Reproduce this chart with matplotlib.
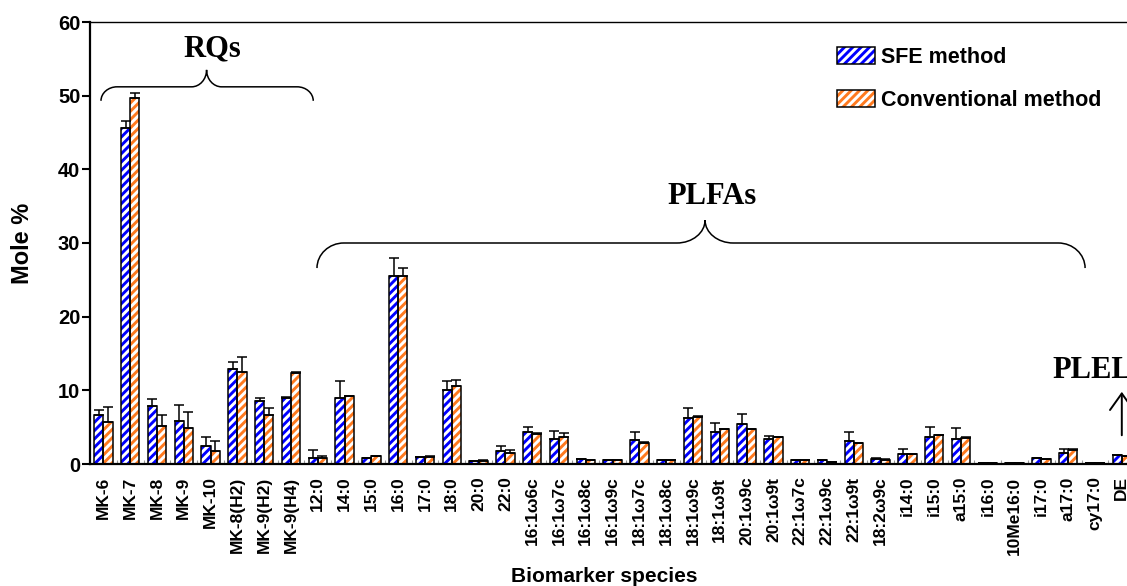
import matplotlib
matplotlib.use("Agg")
import matplotlib.pyplot as plt
import numpy as np
from matplotlib.path import Path
from matplotlib.patches import PathPatch, Patch
from matplotlib.legend_handler import HandlerTuple

plt.rcParams["font.family"] = ["Liberation Sans", "DejaVu Sans"]
plt.rcParams["font.weight"] = "bold"
plt.rcParams["hatch.linewidth"] = 2.1

# biomarker species and mole % values (mean, upper error)
species = ["MK-6", "MK-7", "MK-8", "MK-9", "MK-10", "MK-8(H2)", "MK-9(H2)", "MK-9(H4)",
           "12:0", "14:0", "15:0", "16:0", "17:0", "18:0", "20:0", "22:0",
           "16:1ω6c", "16:1ω7c", "16:1ω8c", "16:1ω9c", "18:1ω7c", "18:1ω8c", "18:1ω9c",
           "18:1ω9t", "20:1ω9c", "20:1ω9t", "22:1ω7c", "22:1ω9c", "22:1ω9t", "18:2ω9c",
           "i14:0", "i15:0", "a15:0", "i16:0", "10Me16:0", "i17:0", "a17:0", "cy17:0", "DE"]
sfe = [6.7, 45.6, 7.9, 5.8, 2.4, 12.9, 8.5, 8.9,
       0.8, 9.0, 0.75, 25.5, 1.0, 10.1, 0.4, 1.7,
       4.4, 3.4, 0.65, 0.5, 3.2, 0.5, 6.3,
       4.3, 5.4, 3.4, 0.5, 0.5, 3.1, 0.7,
       1.4, 3.6, 3.4, 0.15, 0.15, 0.8, 1.5, 0.15, 1.2]
sfe_err = [0.6, 1.0, 0.9, 2.2, 1.2, 1.0, 0.4, 0.2,
           1.1, 2.2, 0.0, 2.4, 0.0, 1.1, 0.0, 0.8,
           0.6, 1.1, 0.0, 0.0, 1.1, 0.0, 1.3,
           1.3, 1.4, 0.4, 0.0, 0.0, 1.2, 0.1,
           0.6, 1.4, 1.5, 0.0, 0.0, 0.0, 0.6, 0.0, 0.0]
conv = [5.7, 49.7, 5.2, 4.9, 1.8, 12.5, 6.7, 12.4,
        0.8, 9.2, 1.05, 25.5, 1.0, 10.6, 0.45, 1.5,
        4.1, 3.7, 0.5, 0.5, 2.9, 0.5, 6.4,
        4.7, 4.7, 3.6, 0.5, 0.3, 2.8, 0.6,
        1.35, 3.9, 3.55, 0.15, 0.15, 0.7, 1.95, 0.15, 1.05]
conv_err = [2.0, 0.7, 1.4, 2.2, 1.3, 2.0, 0.9, 0.05,
            0.35, 0.05, 0.0, 1.1, 0.05, 0.8, 0.05, 0.4,
            0.1, 0.5, 0.0, 0.0, 0.1, 0.0, 0.1,
            0.1, 0.1, 0.1, 0.0, 0.0, 0.1, 0.05,
            0.05, 0.1, 0.1, 0.0, 0.0, 0.0, 0.1, 0.0, 0.0]

BLUE = "#0000ff"
ORANGE = "#ff7a1f"

W, H = 1127, 586
fig = plt.figure(figsize=(W / 100, H / 100), dpi=100)
# axes runs past the right edge of the figure, like the cropped original
ax = fig.add_axes([90 / W, 1 - 464 / H, 1072 / W, 442 / H])

x = np.arange(len(species))
bw = 0.34

def hatched_bars(xpos, vals, errs, color):
    ax.bar(xpos, vals, bw, color="white", edgecolor=color, hatch="////", linewidth=0, zorder=2)
    ax.bar(xpos, vals, bw, fill=False, edgecolor="black", linewidth=1.1, zorder=3)
    ax.errorbar(xpos, vals, yerr=[np.zeros(len(vals)), errs], fmt="none", ecolor="black",
                elinewidth=1.1, capsize=3.3, capthick=1.1, zorder=4)

hatched_bars(x - bw / 2, sfe, sfe_err, BLUE)
hatched_bars(x + bw / 2, conv, conv_err, ORANGE)

ax.set_xlim(-0.5, 39.5)
ax.set_ylim(0, 60)
ax.set_yticks(np.arange(0, 61, 10))
ax.set_xticks(x)
ax.set_xticklabels(species, rotation=90, fontsize=12.5, fontweight="bold")
ax.set_xticks(x + 0.5, minor=True)
ax.tick_params(axis="x", which="major", length=0, pad=9)
ax.tick_params(axis="x", which="minor", length=3, direction="in", color="0.6", width=0.8)
ax.tick_params(axis="y", length=6, width=1.5, labelsize=14.5, pad=1)
for lab in ax.get_yticklabels():
    lab.set_fontweight("bold")
for side in ["left", "bottom"]:
    ax.spines[side].set_linewidth(1.6)
ax.spines["top"].set_linewidth(1.0)

ax.set_ylabel("Mole %", fontsize=17, fontweight="bold")
ax.yaxis.set_label_coords(-0.052, 0.5)
ax.set_xlabel("Biomarker species", fontsize=15, fontweight="bold")
ax.xaxis.set_label_coords(0.4795, -0.232)


def brace(xa, xb, xc, y_end, y_line, y_tip, rx_end, rx_tip):
    k = 0.55
    verts = [
        (xa, y_end),
        (xa, y_end + (y_line - y_end) * k), (xa + rx_end * (1 - k), y_line), (xa + rx_end, y_line),
        (xc - rx_tip, y_line),
        (xc - rx_tip * (1 - k), y_line), (xc, y_line + (y_tip - y_line) * (1 - k)), (xc, y_tip),
        (xc, y_line + (y_tip - y_line) * (1 - k)), (xc + rx_tip * (1 - k), y_line), (xc + rx_tip, y_line),
        (xb - rx_end, y_line),
        (xb - rx_end * (1 - k), y_line), (xb, y_end + (y_line - y_end) * k), (xb, y_end),
    ]
    codes = ([Path.MOVETO] + [Path.CURVE4] * 3 + [Path.LINETO] + [Path.CURVE4] * 6
             + [Path.LINETO] + [Path.CURVE4] * 3)
    ax.add_patch(PathPatch(Path(verts, codes), fill=False, lw=1.1, color="black", zorder=5,
                           clip_on=False))


brace(-0.09, 7.83, 3.85, 49.3, 51.2, 53.5, 0.6, 0.56)
ax.text(4.05, 56.4, "RQs", family="Liberation Serif", fontsize=22, fontweight="bold",
        ha="center", va="center")
brace(7.97, 36.63, 22.45, 26.6, 30.0, 33.1, 1.0, 1.05)
ax.text(22.71, 36.3, "PLFAs", family="Liberation Serif", fontsize=22, fontweight="bold",
        ha="center", va="center")
ax.text(35.4, 12.7, "PLEL", family="Liberation Serif", fontsize=22, fontweight="bold",
        ha="left", va="center")
ax.annotate("", xy=(38, 9.8), xytext=(38, 3.9),
            arrowprops=dict(arrowstyle="->,head_length=0.7,head_width=0.5", lw=1.4,
                            color="black", mutation_scale=17, shrinkA=0, shrinkB=0))

handles = [
    (Patch(facecolor="white", edgecolor=BLUE, hatch="////", linewidth=0),
     Patch(fill=False, edgecolor="black", linewidth=1.1)),
    (Patch(facecolor="white", edgecolor=ORANGE, hatch="////", linewidth=0),
     Patch(fill=False, edgecolor="black", linewidth=1.1)),
]
ax.legend(handles, ["SFE method", "Conventional method"],
          handler_map={tuple: HandlerTuple(ndivide=1)},
          loc="upper left", bbox_to_anchor=(837 / W, 1 - 47 / H), bbox_transform=fig.transFigure,
          frameon=False, prop={"weight": "bold", "size": 15.5},
          handlelength=1.75, handleheight=0.85, handletextpad=0.28, labelspacing=1.0,
          borderpad=0, borderaxespad=0)

fig.savefig("out.png", dpi=100)
